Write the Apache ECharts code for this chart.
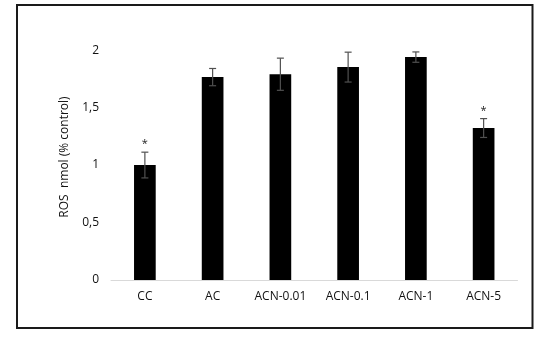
<!DOCTYPE html>
<html><head><meta charset="utf-8">
<script src="https://cdn.jsdelivr.net/npm/echarts@6/dist/echarts.min.js"></script>
<style>html,body{margin:0;padding:0;background:#fff}#c{width:549px;height:339px}</style>
</head><body><div id="c"></div>
<script>
const categories = ["CC","AC","ACN-0.01","ACN-0.1","ACN-1","ACN-5"];
const values = [1.00, 1.765, 1.79, 1.852, 1.939, 1.322];
const errors = [0.112, 0.075, 0.14, 0.13, 0.045, 0.082];
const marks = ["*","","","","","*"];
const yTicks = [0, 0.5, 1, 1.5, 2];

const font = "'Open Sans', 'Noto Sans', sans-serif";
const chart = echarts.init(document.getElementById('c'));
chart.setOption({
  backgroundColor: '#fff',
  animation: false,
  graphic: [{
    type: 'rect', shape: {x: 17, y: 5, width: 515.5, height: 323},
    style: {fill: 'none', stroke: '#1a1a1a', lineWidth: 2}, silent: true
  }],
  grid: {left: 111, right: 31.5, top: 34, bottom: 59},
  xAxis: {
    type: 'category', data: categories,
    axisLine: {show: true, lineStyle: {color: '#d9d9d9', width: 1}},
    axisTick: {show: false},
    axisLabel: {color: '#111', fontFamily: font, fontSize: 12, margin: 11}
  },
  yAxis: {
    type: 'value', min: 0, max: 2.14, interval: 0.5,
    axisLine: {show: false}, axisTick: {show: false}, splitLine: {show: false},
    axisLabel: {
      color: '#111', fontFamily: font, fontSize: 12, margin: 12, showMaxLabel: false,
      formatter: v => yTicks.includes(v) ? String(v).replace('.', ',') : ''
    },
    name: 'ROS  nmol (% control)', nameLocation: 'middle', nameRotate: 90, nameGap: 40,
    nameTextStyle: {color: '#111', fontFamily: font, fontSize: 12}
  },
  series: [{
    type: 'bar', data: values, barWidth: '32%',
    itemStyle: {color: '#000'}
  }, {
    type: 'custom',
    data: categories.map((c, i) => [i, values[i], errors[i]]),
    renderItem: function (params, api) {
      const i = api.value(0), v = api.value(1), e = api.value(2);
      const m = marks[params.dataIndex];
      const top = api.coord([i, v + e]);
      const bot = api.coord([i, v - e]);
      const hw = 3.5;
      const st = {stroke: '#505050', lineWidth: 1.2};
      const children = [
        {type: 'line', shape: {x1: top[0], y1: top[1], x2: bot[0], y2: bot[1]}, style: st},
        {type: 'line', shape: {x1: top[0]-hw, y1: top[1], x2: top[0]+hw, y2: top[1]}, style: st},
        {type: 'line', shape: {x1: bot[0]-hw, y1: bot[1], x2: bot[0]+hw, y2: bot[1]}, style: st}
      ];
      if (m) {
        children.push({type: 'text', style: {text: m, x: top[0], y: top[1] - 8,
          align: 'center', verticalAlign: 'middle', fill: '#222', font: '11px ' + font}});
      }
      return {type: 'group', children: children};
    },
    z: 5
  }]
});
</script></body></html>
